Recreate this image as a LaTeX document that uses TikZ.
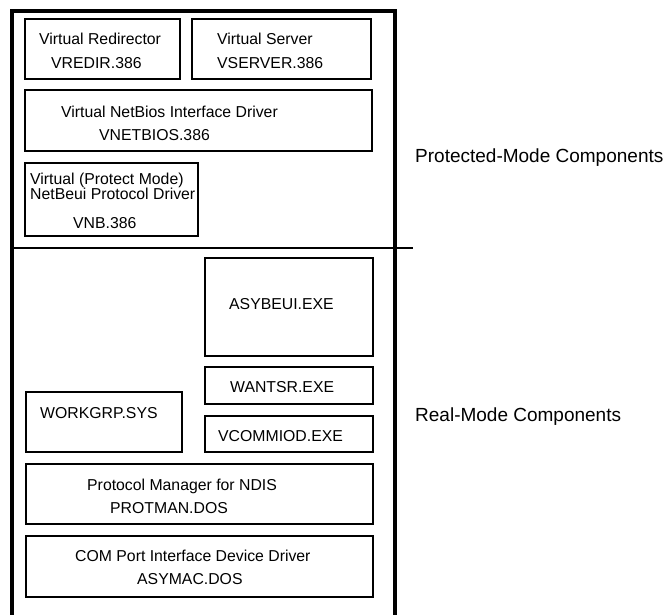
\documentclass[tikz,border=0pt]{standalone}
\usepackage{fontspec}
\setmainfont{Liberation Sans}
\begin{document}
\begin{tikzpicture}[x=1pt,y=-1pt,
  comp/.style={draw, line width=1.7pt},
  txt/.style={anchor=base west, inner sep=0pt, font=\fontsize{15.8}{18}\selectfont},
  side/.style={anchor=base west, inner sep=0pt, font=\fontsize{19}{22}\selectfont}]
\useasboundingbox (0,0) rectangle (666,614);
% outer frame (open at the bottom, cropped)
\draw[line width=3.3pt] (12,616) -- (12,11) -- (395,11) -- (395,616);
% divider
\coordinate (dl) at (12,248);
\coordinate (dr) at (413,248);
\draw[line width=1.3pt] (dl) -- (dr);
% boxes
\draw[comp] (25,19) rectangle (180,79);
\draw[comp] (192,19) rectangle (371,79);
\draw[comp] (25,90) rectangle (372,151);
\draw[comp] (25,163) rectangle (198,236);
\draw[comp] (205,258) rectangle (373,356);
\draw[comp] (205,367) rectangle (373,404);
\draw[comp] (205,416) rectangle (373,452);
\draw[comp] (26,392) rectangle (182,452);
\draw[comp] (26,464) rectangle (373,524);
\draw[comp] (26,536) rectangle (373,597);
% texts
\node[txt] (t1) at (39,44) {Virtual Redirector};
\node[txt] (t2) at (51,68) {VREDIR.386};
\node[txt] (t3) at (217,44) {Virtual Server};
\node[txt] (t4) at (217,68) {VSERVER.386};
\node[txt] (t5) at (61,117) {Virtual NetBios Interface Driver};
\node[txt] (t6) at (99,140) {VNETBIOS.386};
\node[txt] (t7) at (30,184) {Virtual (Protect Mode)};
\node[txt] (t8) at (30,199) {NetBeui Protocol Driver};
\node[txt] (t9) at (73,228) {VNB.386};
\node[txt] (t10) at (229,309) {ASYBEUI.EXE};
\node[txt] (t11) at (230,392.7) {WANTSR.EXE};
\node[txt] (t12) at (218,441.7) {VCOMMIOD.EXE};
\node[txt] (t13) at (40,418.3) {WORKGRP.SYS};
\node[txt] (t14) at (87,490) {Protocol Manager for NDIS};
\node[txt] (t15) at (110,513.3) {PROTMAN.DOS};
\node[txt] (t16) at (75,561.7) {COM Port Interface Device Driver};
\node[txt] (t17) at (137,584.3) {ASYMAC.DOS};
\node[side] (s1) at (415,162) {Protected-Mode Components};
\node[side] (s2) at (415,421.7) {Real-Mode Components};
\end{tikzpicture}
\end{document}
